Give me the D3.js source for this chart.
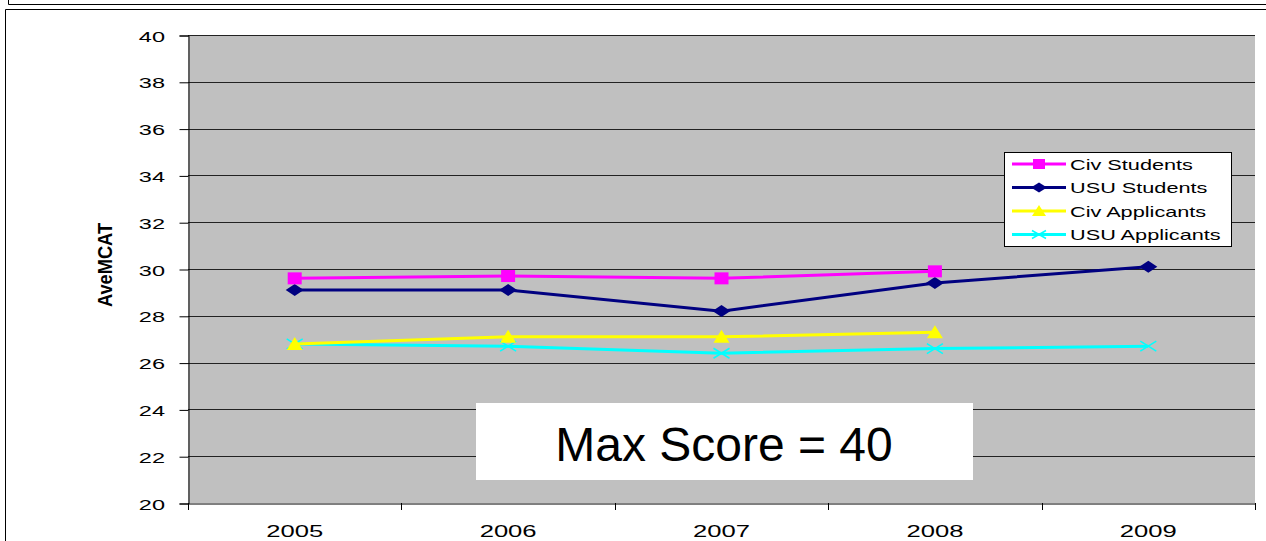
<!DOCTYPE html>
<html><head><meta charset="utf-8">
<script src="https://cdn.jsdelivr.net/npm/d3@7"></script>
<style>body{margin:0;background:#fff}svg{display:block}</style>
</head><body>
<svg id="c" width="1266" height="541" font-family="Arial, 'Liberation Sans', sans-serif"></svg>
<script>
const years = ["2005","2006","2007","2008","2009"];
const yTicks = [20,22,24,26,28,30,32,34,36,38,40];
const civStudents = [29.6, 29.7, 29.6, 29.9, null];
const usuStudents = [29.1, 29.1, 28.2, 29.4, 30.1];
const civApplicants = [26.8, 27.1, 27.1, 27.3, null];
const usuApplicants = [26.8, 26.7, 26.4, 26.6, 26.7];
const seriesNames = ["Civ Students","USU Students","Civ Applicants","USU Applicants"];
const seriesColors = ["#FF00FF","#000080","#FFFF00","#00FFFF"];
const seriesMarkers = ["square","diamond","triangle","x"];
const seriesValues = [civStudents, usuStudents, civApplicants, usuApplicants];

const svg = d3.select("#c");
// outer frames
svg.append("path").attr("d","M8.5,0 V4.5 H1266").attr("fill","none").attr("stroke","#000");
svg.append("path").attr("d","M5.5,541 V9.5 H1266").attr("fill","none").attr("stroke","#000");

const L=188, R=1255, T=35, B=503;
const x = d3.scaleBand().domain(years).range([L,R]);
const y = d3.scaleLinear().domain([20,40]).range([B,T]);

svg.append("rect").attr("x",L).attr("y",T).attr("width",R-L).attr("height",B-T).attr("fill","#C0C0C0");
// gridlines
svg.append("g").selectAll("line").data(yTicks.filter(d=>d>20)).join("line")
  .attr("x1",L).attr("x2",R).attr("y1",d=>Math.round(y(d))+0.5).attr("y2",d=>Math.round(y(d))+0.5)
  .attr("stroke","#222").attr("stroke-width",1.2);

// y axis
const ya = svg.append("g").attr("transform",`translate(${L+0.5},0.5)`)
  .call(d3.axisLeft(y).tickValues(yTicks).tickSize(9).tickFormat(""));
ya.select(".domain").attr("stroke","#000");
ya.selectAll("line").attr("stroke","#000");
svg.append("g").selectAll("text").data(yTicks).join("text")
  .attr("transform",d=>`translate(165,${y(d)+6.5}) scale(1.57,1)`)
  .attr("text-anchor","end").attr("font-size",15).attr("fill","#000").text(d=>d);

// x axis
const xa = svg.append("g").attr("transform",`translate(0.5,${B+0.5})`)
  .call(d3.axisBottom(x).tickSize(0).tickFormat(""));
xa.select(".domain").attr("stroke","#000");
svg.append("g").selectAll("line").data(years.map(d=>x(d)).concat([R])).join("line")
  .attr("x1",d=>Math.round(d)+0.5).attr("x2",d=>Math.round(d)+0.5).attr("y1",B).attr("y2",B+7).attr("stroke","#000");
svg.append("g").selectAll("text").data(years).join("text")
  .attr("transform",d=>`translate(${x(d)+x.bandwidth()/2},537) scale(1.6,1)`)
  .attr("text-anchor","middle").attr("font-size",16).attr("fill","#000").text(d=>d);

// y label
svg.append("text").attr("transform","translate(112,265) rotate(-90) scale(1.52,1.63)").attr("text-anchor","middle")
  .attr("font-size",12).attr("font-weight","bold").text("AveMCAT");

// Max score box
svg.append("rect").attr("x",476).attr("y",403).attr("width",497).attr("height",77).attr("fill","#fff");
svg.append("text").attr("x",724).attr("y",461).attr("text-anchor","middle").attr("font-size",48).text("Max Score = 40");

function marker(g, type, color, cx, cy, s){
  if(type==="square") g.append("rect").attr("x",cx-s/2-1).attr("y",cy-s/2).attr("width",s+2).attr("height",s).attr("fill",color);
  else if(type==="diamond") g.append("path").attr("d",`M${cx},${cy-s/2}L${cx+s/2+3},${cy}L${cx},${cy+s/2}L${cx-s/2-3},${cy}Z`).attr("fill",color);
  else if(type==="triangle") g.append("path").attr("d",`M${cx},${cy-s/2-1}L${cx+s/2+2},${cy+s/2}L${cx-s/2-2},${cy+s/2}Z`).attr("fill",color);
  else g.append("path").attr("d",`M${cx-s/2-2},${cy-s/2+1}L${cx+s/2+2},${cy+s/2-1}M${cx-s/2-2},${cy+s/2-1}L${cx+s/2+2},${cy-s/2+1}`).attr("stroke",color).attr("stroke-width",1.5);
}

const line = d3.line().defined(d=>d.v!=null).x(d=>x(d.k)+x.bandwidth()/2).y(d=>y(d.v));
const order = [3,2,1,0];
order.forEach(i=>{
  const data = years.map((k,j)=>({k, v: seriesValues[i][j]}));
  const g = svg.append("g");
  g.append("path").datum(data).attr("d",line).attr("fill","none").attr("stroke",seriesColors[i]).attr("stroke-width",3);
  data.filter(d=>d.v!=null).forEach(d=>marker(g, seriesMarkers[i], seriesColors[i], x(d.k)+x.bandwidth()/2, y(d.v), 12));
});

// legend
const lg = svg.append("g");
lg.append("rect").attr("x",1004.5).attr("y",152.5).attr("width",227).attr("height",94).attr("fill","#fff").attr("stroke","#000");
seriesNames.forEach((n,i)=>{
  const ly = 164 + i*23.5;
  lg.append("line").attr("x1",1012).attr("x2",1066).attr("y1",ly).attr("y2",ly).attr("stroke",seriesColors[i]).attr("stroke-width",3);
  marker(lg, seriesMarkers[i], seriesColors[i], 1039, ly, 10);
  lg.append("text").attr("transform",`translate(1070,${ly+5.5}) scale(1.55,1)`).attr("font-size",14).text(n);
});
</script>
</body></html>
